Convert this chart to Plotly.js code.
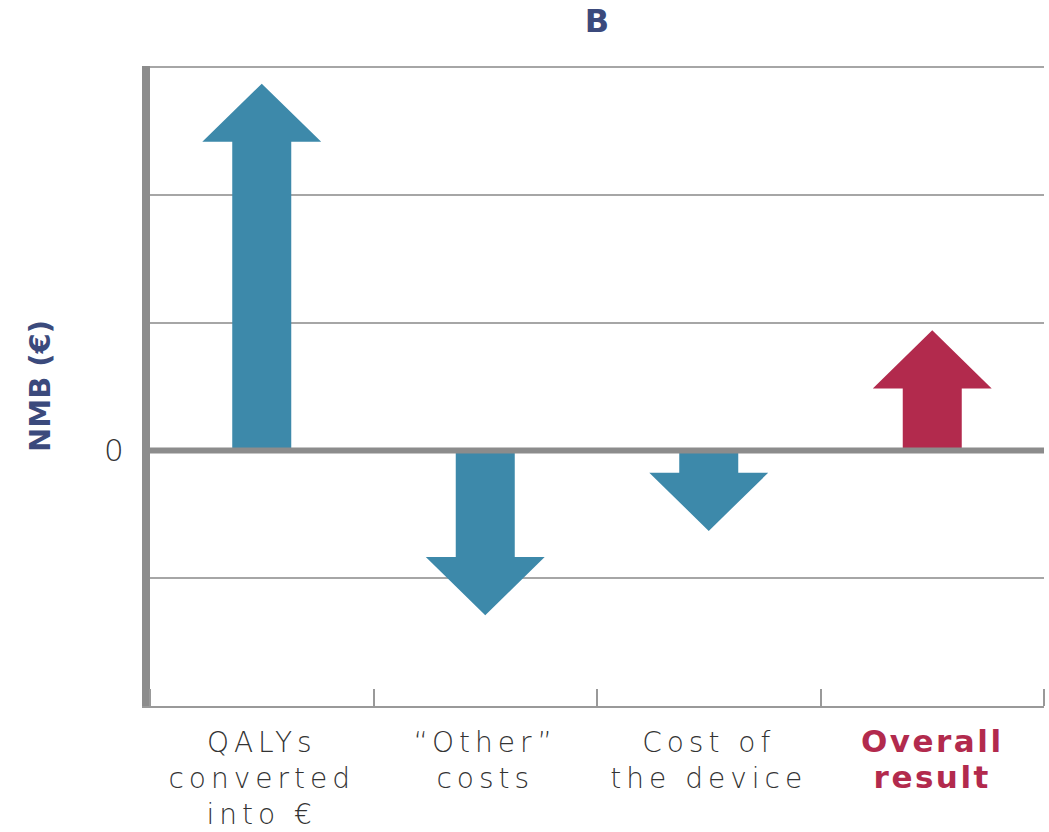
<!DOCTYPE html>
<html>
<head>
<meta charset="utf-8">
<script src="https://cdn.plot.ly/plotly-3.0.1.min.js"></script>
<style>
  html, body { margin: 0; padding: 0; background: #fff; }
  #chart { width: 1049px; height: 832px; }
  .xtick text { letter-spacing: 5px; }
  .xtick text tspan[style*="bold"] { letter-spacing: 2.5px; }
</style>
</head>
<body>
<div id="chart"></div>
<script>
// ---- data ----
const categories = ['QALYs<br>converted<br>into €', '“Other”<br>costs', 'Cost of<br>the device', '<span style="color:#b22a4d;font-size:31px"><b>Overall<br>result</b></span>'];
const values = [2.87, -1.29, -0.63, 0.94];
const arrowColors = ['#3d89aa', '#3d89aa', '#3d89aa', '#b22a4d'];
const yTickVals = [-2, -1, 0, 1, 2, 3];
const yTickText = ['', '', '0', '', '', ''];

// ---- style constants ----
const shaftHalf = 0.132;
const headHalf = 0.266;
const headLen = 0.455;
const titleBlue = '#3b4a7c';
const grey = '#8c8c8c';
const labelFont = '"DejaVu Sans", "Open Sans", sans-serif';

const traces = values.map((v, i) => {
  const s = v >= 0 ? 1 : -1;
  const hb = v - s * headLen;
  return {
    type: 'scatter', mode: 'lines', fill: 'toself',
    x: [i - shaftHalf, i - shaftHalf, i - headHalf, i, i + headHalf, i + shaftHalf, i + shaftHalf, i - shaftHalf],
    y: [0, hb, hb, v, hb, hb, 0, 0],
    fillcolor: arrowColors[i],
    line: { width: 0, color: arrowColors[i] },
    hoverinfo: 'skip', showlegend: false
  };
});

const layout = {
  width: 1049, height: 832,
  margin: { l: 150, r: 5, t: 66, b: 126 },
  paper_bgcolor: '#fff', plot_bgcolor: '#fff',
  showlegend: false,
  title: {
    text: '<b>B</b>', x: 0.5, xref: 'paper', xanchor: 'center',
    y: 0.975, yref: 'container', yanchor: 'middle',
    font: { family: labelFont, size: 32, color: titleBlue }
  },
  xaxis: {
    range: [-0.5, 3.5], fixedrange: true,
    tickmode: 'array', tickvals: [0, 1, 2, 3], ticktext: categories,
    ticks: '', showgrid: false, zeroline: false,
    showline: true, linecolor: '#999', linewidth: 2,
    ticklabelstandoff: 10,
    tickfont: { family: labelFont, size: 28, color: '#333', weight: 200 },
    minor: { tick0: 0.5, dtick: 1, ticks: 'inside', ticklen: 17, tickwidth: 2, tickcolor: '#999', showgrid: false }
  },
  yaxis: {
    range: [-2, 3.008], fixedrange: true,
    tickmode: 'array', tickvals: yTickVals, ticktext: yTickText,
    ticks: '', showgrid: true, gridcolor: '#a6a6a6', gridwidth: 2,
    zeroline: false,
    showline: true, linecolor: grey, linewidth: 8,
    ticklabelstandoff: 12,
    tickfont: { family: labelFont, size: 31, color: '#333', weight: 200 },
    title: {
      text: '<b>NMB (€)</b>', standoff: 48,
      font: { family: labelFont, size: 29, color: titleBlue }
    },
    automargin: false
  },
  shapes: [{
    type: 'line', xref: 'paper', yref: 'y', x0: 0, x1: 1, y0: 0, y1: 0,
    line: { color: grey, width: 6 }, layer: 'above'
  }]
};

Plotly.newPlot('chart', traces, layout, { displayModeBar: false, staticPlot: true });
</script>
</body>
</html>
